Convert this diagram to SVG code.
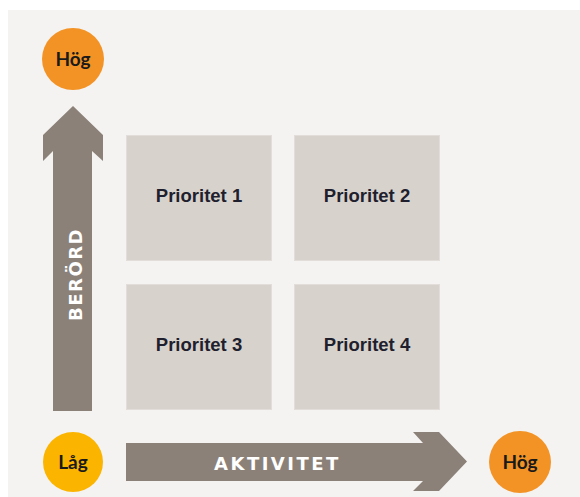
<svg xmlns="http://www.w3.org/2000/svg" width="580" height="497" viewBox="0 0 580 497">
<style>
.bg{fill:#f4f3f2}
.box{fill:#d8d2cc;stroke:#e2ddd8;stroke-width:1}
.arrow{fill:#8c8179}
.plabel{font-family:"Liberation Sans",Arial,sans-serif;font-weight:bold;font-size:18.5px;fill:#1f1f2e;text-anchor:middle}
.axis{font-family:"DejaVu Sans",sans-serif;font-weight:bold;font-size:18px;fill:#ffffff}
.clabel{font-family:Lato,"Liberation Sans",sans-serif;font-weight:bold;font-size:19px;fill:#1a1a1a;text-anchor:middle}
.orange{fill:#f39325}
.yellow{fill:#fbb400}
</style>
<rect x="0" y="0" width="580" height="497" fill="#ffffff"/>
<rect class="bg" x="8" y="10" width="572" height="487"/>
<g id="connectors">
<g id="arrow-berord">
<path class="arrow" d="M53,411 L53,151 L43,161 L43,135 L73,106 L103,135 L103,161 L92,151 L92,411 Z"/>
<text class="axis" transform="translate(82,321) rotate(-90)" letter-spacing="1.5">BERÖRD</text>
</g>
<g id="arrow-aktivitet">
<path class="arrow" d="M126,443 L423,443 L413,432 L439,432 L467,461.5 L439,491 L413,491 L423,481 L126,481 Z"/>
<text class="axis" x="214" y="469.5" letter-spacing="2.5">AKTIVITET</text>
</g>
</g>
<g id="prio1">
<rect class="box" x="126.5" y="135.5" width="145" height="125"/>
<text class="plabel" x="199" y="202">Prioritet 1</text>
</g>
<g id="prio2">
<rect class="box" x="294.5" y="135.5" width="145" height="125"/>
<text class="plabel" x="367" y="202">Prioritet 2</text>
</g>
<g id="prio3">
<rect class="box" x="126.5" y="284.5" width="145" height="125"/>
<text class="plabel" x="199" y="351">Prioritet 3</text>
</g>
<g id="prio4">
<rect class="box" x="294.5" y="284.5" width="145" height="125"/>
<text class="plabel" x="367" y="351">Prioritet 4</text>
</g>
<g id="hog-top">
<circle class="orange" cx="73" cy="59" r="31"/>
<text class="clabel" x="73" y="66">Hög</text>
</g>
<g id="lag">
<circle class="yellow" cx="73" cy="462" r="30"/>
<text class="clabel" x="73" y="469">Låg</text>
</g>
<g id="hog-right">
<circle class="orange" cx="520" cy="462" r="31"/>
<text class="clabel" x="520" y="469">Hög</text>
</g>
</svg>
